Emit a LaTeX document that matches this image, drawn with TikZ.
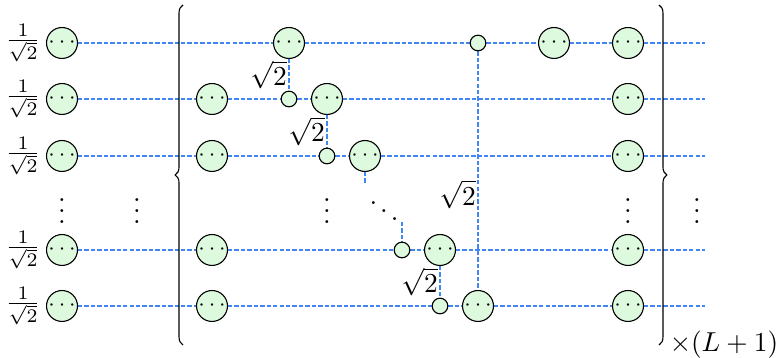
\documentclass[tikz,border=0pt]{standalone}
\usetikzlibrary{decorations.pathreplacing,backgrounds}
\definecolor{wirecol}{RGB}{66,133,244}
\definecolor{nodefill}{RGB}{222,250,222}
\begin{document}
\begin{tikzpicture}[x=0.365pt,y=-0.365pt,
  big/.style={circle,draw,fill=nodefill,minimum size=11.3pt,inner sep=0pt,font=\footnotesize},
  small/.style={circle,draw,fill=nodefill,minimum size=5.7pt,inner sep=0pt},
  wire/.style={draw=wirecol,dash pattern=on 1.6pt off 0.75pt,line width=0.6pt},
  lab/.style={inner sep=0.6pt,font=\normalsize},
  vd/.style={inner sep=0pt},
  bracestyle/.style={decorate,decoration={brace,amplitude=2.9pt},line width=0.4pt}
]
\useasboundingbox (0,0) rectangle (777,358);

% rows y: 43, 99, 156, 250, 306
\foreach \r/\y in {1/43,2/99,3/156,4/250,5/306}{
  \node[inner sep=0pt] (f\r) at (23,\y) {$\frac{1}{\sqrt{2}}$};
  \node[big] (l\r) at (62,\y) {$\cdots$};
  \node[big] (z\r) at (628,\y) {$\cdots$};
  \coordinate (e\r) at (705,\y);
}

% row 1
\node[big] (a1) at (289,43) {$\cdots$};
\node[small] (s1) at (478,43) {};
\node[big] (c1) at (554,43) {$\cdots$};
% row 2
\node[big] (a2) at (212,99) {$\cdots$};
\node[small] (s2) at (289,99) {};
\node[big] (b2) at (327,99) {$\cdots$};
% row 3
\node[big] (a3) at (212,156) {$\cdots$};
\node[small] (s3) at (327,156) {};
\node[big] (b3) at (365,156) {$\cdots$};
% row 4
\node[big] (a4) at (212,250) {$\cdots$};
\node[small] (s4) at (402,250) {};
\node[big] (b4) at (440,250) {$\cdots$};
% row 5
\node[big] (a5) at (212,306) {$\cdots$};
\node[small] (s5) at (440,306) {};
\node[big] (b5) at (478,306) {$\cdots$};

\coordinate (t3) at (365,184);
\coordinate (t4) at (402,222);

\begin{scope}[on background layer]
% horizontal wires
\draw[wire] (l1) -- (a1) -- (s1) -- (c1) -- (z1) -- (e1);
\draw[wire] (l2) -- (a2) -- (s2) -- (b2) -- (z2) -- (e2);
\draw[wire] (l3) -- (a3) -- (s3) -- (b3) -- (z3) -- (e3);
\draw[wire] (l4) -- (a4) -- (s4) -- (b4) -- (z4) -- (e4);
\draw[wire] (l5) -- (a5) -- (s5) -- (b5) -- (z5) -- (e5);
% vertical wires
\draw[wire] (a1) -- (s2);
\draw[wire] (b2) -- (s3);
\draw[wire] (b3) -- (t3);
\draw[wire] (t4) -- (s4);
\draw[wire] (b4) -- (s5);
\draw[wire] (s1) -- (b5);
\end{scope}

% weight labels
\path (a1) -- node[midway,left,lab] (w1) {$\sqrt{2}$} (s2);
\path (b2) -- node[midway,left,lab] (w2) {$\sqrt{2}$} (s3);
\path (b4) -- node[midway,left,lab] (w3) {$\sqrt{2}$} (s5);
\path (s1) -- node[pos=0.6,left,lab] (w4) {$\sqrt{2}$} (b5);

% dots
\node[vd] (v1) at (62,203) {$\vdots$};
\node[vd] (v2) at (137,203) {$\vdots$};
\node[vd] (v3) at (327,203) {$\vdots$};
\node[vd] (v4) at (628,203) {$\vdots$};
\node[vd] (v5) at (697,203) {$\vdots$};
\node[vd] (dd) at (384,203) {$\ddots$};

% braces
\coordinate (bl0) at (183,345);
\coordinate (bl1) at (183,5);
\coordinate (br0) at (659,5);
\coordinate (br1) at (659,345);
\draw[bracestyle] (bl0) -- (bl1);
\draw[bracestyle] (br0) -- (br1);

\node[inner sep=0pt] (rep) at (724,345) {$\times(L+1)$};
\end{tikzpicture}
\end{document}
